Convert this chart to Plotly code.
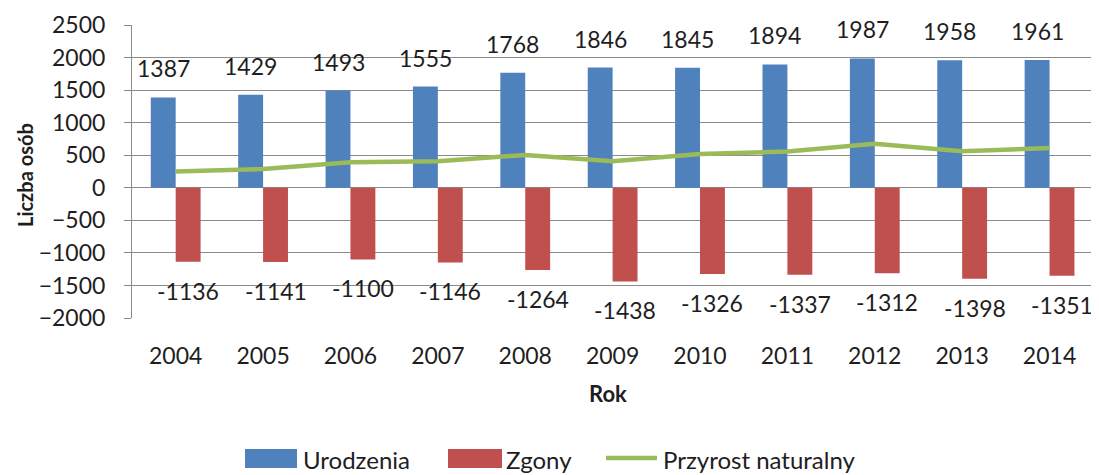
import plotly.graph_objects as go

years = ["2004", "2005", "2006", "2007", "2008", "2009", "2010", "2011", "2012", "2013", "2014"]
urodzenia = [1387, 1429, 1493, 1555, 1768, 1846, 1845, 1894, 1987, 1958, 1961]
zgony = [-1136, -1141, -1100, -1146, -1264, -1438, -1326, -1337, -1312, -1398, -1351]
przyrost = [251, 288, 393, 409, 504, 408, 519, 557, 675, 560, 610]
y_ticks = [-2000, -1500, -1000, -500, 0, 500, 1000, 1500, 2000, 2500]

FONT = "Lato"
TXT = "#1e1e1e"
BLUE = "#4F81BD"
RED = "#C0504D"
GREEN = "#9BBB59"
GRID = "#8a8a8a"
bargap = 0.43

# page has an 8px body margin; figure sized so it ends at the window edge
PAGE_OFF = 8
W, H = 1091, 467
L, R, T, B = 124, 4, 17, 157
pw, ph = W - L - R, H - T - B


def px(xp):
    return (xp - PAGE_OFF - L) / pw


def py(yp):
    return (H - B - (yp - PAGE_OFF)) / ph


fig = go.Figure()
fig.add_trace(go.Bar(x=years, y=urodzenia, name="Urodzenia", marker=dict(color=BLUE, line=dict(width=0))))
fig.add_trace(go.Bar(x=years, y=zgony, name="Zgony", marker=dict(color=RED, line=dict(width=0))))
fig.add_trace(go.Scatter(x=years, y=przyrost, name="Przyrost naturalny", mode="lines",
                         line=dict(color=GREEN, width=4.5)))

off = (1 - bargap) / 4
annotations = []
for i, (u, z) in enumerate(zip(urodzenia, zgony)):
    annotations.append(dict(x=i - off, y=u, xref="x", yref="y", text=str(u), showarrow=False,
                            yshift=29, font=dict(family=FONT, size=23, color=TXT)))
    annotations.append(dict(x=i + off, y=z, xref="x", yref="y", text=str(z), showarrow=False,
                            yshift=-29, font=dict(family=FONT, size=23, color=TXT)))

# axis titles
annotations.append(dict(x=px(25), y=py(175), xref="paper", yref="paper", text="<b>Liczba osób</b>",
                        textangle=-90, showarrow=False, xanchor="center", yanchor="middle",
                        font=dict(family=FONT, size=20, color=TXT)))
annotations.append(dict(x=px(608), y=py(393), xref="paper", yref="paper", text="<b>Rok</b>",
                        showarrow=False, xanchor="center", yanchor="middle",
                        font=dict(family=FONT, size=22, color=TXT)))

# manual legend (wide swatches as in the reference)
shapes = [
    dict(type="rect", xref="paper", yref="paper", x0=px(245), x1=px(297), y0=py(449), y1=py(468),
         fillcolor=BLUE, line=dict(width=0), layer="above"),
    dict(type="rect", xref="paper", yref="paper", x0=px(448), x1=px(502), y0=py(449), y1=py(468),
         fillcolor=RED, line=dict(width=0), layer="above"),
    dict(type="line", xref="paper", yref="paper", x0=px(606), x1=px(657), y0=py(458), y1=py(458),
         line=dict(color=GREEN, width=4.5), layer="above"),
]
for name, xl in [("Urodzenia", 301), ("Zgony", 504), ("Przyrost naturalny", 661)]:
    annotations.append(dict(x=px(xl), y=py(459), xref="paper", yref="paper", text=name,
                            showarrow=False, xanchor="left", yanchor="middle",
                            font=dict(family=FONT, size=24, color=TXT)))

fig.update_layout(
    width=W, height=H,
    margin=dict(l=L, r=R, t=T, b=B),
    paper_bgcolor="white", plot_bgcolor="white",
    barmode="group", bargap=bargap, bargroupgap=0,
    font=dict(family=FONT, size=23, color=TXT),
    annotations=annotations,
    shapes=shapes,
    showlegend=False,
    xaxis=dict(type="category", showgrid=False, showline=False, ticks="", automargin=False,
               tickfont=dict(family=FONT, size=23, color=TXT), ticklabelstandoff=22),
    yaxis=dict(range=[-2000, 2500], tickvals=y_ticks, showgrid=True, gridcolor=GRID, gridwidth=1,
               zeroline=True, zerolinecolor=GRID, zerolinewidth=1,
               showline=True, linecolor=GRID, linewidth=1, automargin=False,
               ticks="outside", ticklen=7, tickcolor=GRID, ticklabelstandoff=14,
               tickfont=dict(family=FONT, size=23, color=TXT)),
)

fig.write_html("out.html")
